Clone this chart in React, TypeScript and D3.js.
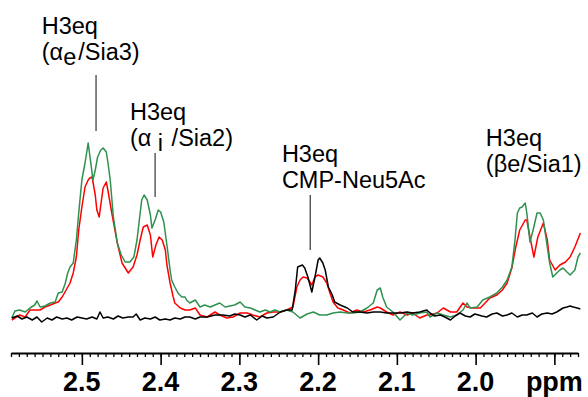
import React, { useEffect, useRef } from "react";
import * as d3 from "d3";

// chemical shift (ppm) vs. intensity (arbitrary units)
const greenTrace: [number, number][] = [
  [2.589, 2], [2.585, 9], [2.579, 10], [2.572, 8], [2.566, 12], [2.56, 15], [2.557, 19], [2.553, 13],
  [2.547, 14], [2.54, 17], [2.534, 18], [2.53, 27], [2.525, 28], [2.521, 37], [2.518, 47], [2.515, 53],
  [2.511, 57], [2.507, 80], [2.504, 107], [2.5, 140], [2.496, 157], [2.492, 177], [2.488, 153], [2.486, 140],
  [2.483, 150], [2.48, 163], [2.476, 170], [2.473, 172], [2.469, 168], [2.467, 158], [2.464, 140], [2.46, 103],
  [2.455, 77], [2.45, 65], [2.445, 58], [2.439, 58], [2.434, 63], [2.43, 80], [2.426, 107], [2.424, 120],
  [2.421, 125], [2.417, 120], [2.413, 105], [2.411, 92], [2.407, 100], [2.403, 110], [2.4, 108], [2.396, 98],
  [2.392, 75], [2.388, 50], [2.386, 40], [2.382, 33], [2.378, 27], [2.373, 23], [2.369, 23], [2.367, 20],
  [2.363, 17], [2.356, 20], [2.35, 13], [2.344, 15], [2.337, 13], [2.331, 15], [2.325, 17], [2.318, 13],
  [2.312, 14], [2.306, 15], [2.299, 18], [2.293, 13], [2.286, 12], [2.28, 10], [2.274, 8], [2.267, 10],
  [2.261, 8], [2.255, 10], [2.248, 8], [2.24, 10], [2.232, 8], [2.223, 2], [2.214, 6], [2.206, 8],
  [2.198, 5], [2.189, 5], [2.181, 7], [2.172, 8], [2.163, 7], [2.156, 7], [2.147, 8], [2.138, 12],
  [2.13, 17], [2.125, 30], [2.121, 32], [2.118, 23], [2.113, 13], [2.105, 8], [2.096, 0], [2.087, 7],
  [2.08, 5], [2.071, 7], [2.062, 8], [2.058, 3], [2.049, 7], [2.041, 5], [2.032, 3], [2.024, 5],
  [2.016, 10], [2.011, 17], [2.007, 12], [1.998, 13], [1.991, 20], [1.982, 23], [1.973, 27], [1.966, 33],
  [1.96, 40], [1.954, 53], [1.95, 80], [1.947, 107], [1.944, 112], [1.941, 113], [1.937, 117], [1.935, 107],
  [1.931, 78], [1.927, 90], [1.922, 107], [1.918, 107], [1.914, 100], [1.909, 73], [1.906, 57], [1.902, 43],
  [1.897, 47], [1.893, 50], [1.889, 52], [1.884, 48], [1.88, 45], [1.874, 50], [1.87, 63], [1.867, 67],
];

const redTrace: [number, number][] = [
  [2.589, 0], [2.585, 2], [2.579, 5], [2.572, 3], [2.566, 10], [2.56, 10], [2.553, 10], [2.547, 13],
  [2.54, 15], [2.534, 17], [2.53, 18], [2.525, 23], [2.52, 30], [2.515, 37], [2.511, 47], [2.507, 63],
  [2.504, 90], [2.5, 113], [2.496, 133], [2.492, 140], [2.49, 142], [2.487, 143], [2.483, 125], [2.481, 110],
  [2.478, 103], [2.476, 115], [2.473, 132], [2.469, 138], [2.467, 130], [2.462, 107], [2.455, 77], [2.449, 57],
  [2.441, 47], [2.435, 53], [2.43, 65], [2.426, 80], [2.422, 93], [2.417, 95], [2.413, 85], [2.41, 63],
  [2.406, 75], [2.402, 83], [2.398, 80], [2.394, 70], [2.392, 55], [2.388, 37], [2.384, 23], [2.382, 17],
  [2.375, 12], [2.369, 10], [2.363, 10], [2.356, 12], [2.35, 5], [2.341, 3], [2.331, 8], [2.325, 5],
  [2.316, 2], [2.308, 3], [2.299, 7], [2.29, 7], [2.283, 5], [2.274, 3], [2.265, 7], [2.257, 8],
  [2.248, 8], [2.24, 10], [2.232, 13], [2.227, 33], [2.223, 40], [2.219, 43], [2.214, 42], [2.208, 35],
  [2.204, 43], [2.2, 45], [2.194, 43], [2.189, 37], [2.185, 27], [2.181, 18], [2.175, 12], [2.168, 10],
  [2.16, 7], [2.151, 10], [2.143, 8], [2.134, 10], [2.125, 13], [2.121, 12], [2.113, 8], [2.105, 5],
  [2.096, 8], [2.087, 5], [2.08, 7], [2.071, 2], [2.062, 5], [2.058, 5], [2.049, 7], [2.041, 12],
  [2.032, 8], [2.024, 8], [2.016, 17], [2.011, 13], [2.003, 12], [1.994, 12], [1.988, 17], [1.982, 22],
  [1.973, 25], [1.966, 30], [1.96, 37], [1.954, 52], [1.949, 73], [1.944, 90], [1.937, 100], [1.935, 100],
  [1.931, 83], [1.926, 63], [1.921, 83], [1.914, 97], [1.909, 80], [1.906, 60], [1.899, 50], [1.893, 55],
  [1.886, 58], [1.88, 63], [1.874, 73], [1.867, 87],
];

const blackTrace: [number, number][] = [
  [2.589, 2], [2.582, 4], [2.576, 1], [2.57, 3], [2.563, 0], [2.557, 3], [2.551, -2], [2.544, 2],
  [2.538, 0], [2.532, 3], [2.525, 1], [2.519, 2], [2.513, 0], [2.506, 3], [2.5, 2], [2.494, 1],
  [2.487, 3], [2.481, 1], [2.477, 8], [2.473, 2], [2.467, 3], [2.46, 1], [2.454, 4], [2.448, 2],
  [2.441, 3], [2.435, 3], [2.431, 6], [2.426, 0], [2.42, 2], [2.413, 1], [2.407, 3], [2.401, 0],
  [2.394, 1], [2.388, 0], [2.382, 2], [2.375, 1], [2.369, 3], [2.363, 3], [2.356, 1], [2.35, 3],
  [2.341, 3], [2.331, 5], [2.321, 5], [2.312, 4], [2.306, 6], [2.299, 5], [2.293, 3], [2.286, 5],
  [2.278, 0], [2.271, 4], [2.265, 2], [2.257, 3], [2.248, 8], [2.24, 10], [2.233, 10], [2.229, 30],
  [2.226, 53], [2.22, 55], [2.217, 52], [2.213, 43], [2.208, 28], [2.204, 43], [2.2, 60], [2.198, 62],
  [2.194, 57], [2.191, 50], [2.187, 33], [2.182, 25], [2.179, 18], [2.172, 15], [2.163, 12], [2.156, 8],
  [2.147, 8], [2.138, 7], [2.13, 8], [2.121, 8], [2.113, 7], [2.105, 7], [2.096, 7], [2.087, 8],
  [2.08, 7], [2.071, 8], [2.062, 10], [2.058, 7], [2.052, 4], [2.045, 5], [2.039, 3], [2.032, 0],
  [2.026, 4], [2.02, 7], [2.013, 4], [2.007, 3], [2.001, 6], [1.992, 4], [1.986, 3], [1.979, 6],
  [1.973, 7], [1.966, 4], [1.96, 5], [1.954, 7], [1.947, 3], [1.941, 5], [1.935, 5], [1.928, 7],
  [1.922, 3], [1.916, 6], [1.909, 7], [1.903, 6], [1.897, 8], [1.893, 10], [1.889, 12], [1.884, 13],
  [1.88, 14], [1.876, 13], [1.871, 12], [1.867, 11],
];

const majorTicks = [2.5, 2.4, 2.3, 2.2, 2.1, 2.0, 1.9];
const tickLabels = ["2.5", "2.4", "2.3", "2.2", "2.1", "2.0", "ppm"];

// peak assignments: text, where the leader line sits (ppm) and its span in intensity
const annotations = [
  { title: "H3eq", pre: "(\u03b1", sub: "e", post: "/Sia3)", textPpm: 2.551, textInt: 286, linePpm: 2.482, lineTop: 245, lineBottom: 189 },
  { title: "H3eq", pre: "(\u03b1 ", sub: "i", post: " /Sia2)", textPpm: 2.439, textInt: 200, linePpm: 2.407, lineTop: 167, lineBottom: 123 },
  { title: "H3eq", pre: "CMP-Neu5Ac", sub: "", post: "", textPpm: 2.246, textInt: 158, linePpm: 2.21, lineTop: 125, lineBottom: 70 },
  { title: "H3eq", pre: "(\u03b2e/Sia1)", sub: "", post: "", textPpm: 1.987, textInt: 174, linePpm: null, lineTop: 0, lineBottom: 0 },
];

const width = 588;
const height = 397;
const font = "Arial, 'Liberation Sans', sans-serif";

export default function App() {
  const svgRef = useRef<SVGSVGElement>(null);

  useEffect(() => {
    const svg = d3.select(svgRef.current);
    svg.selectAll("*").remove();

    const x = d3.scaleLinear().domain([2.59, 1.87]).range([11, 578]);
    const y = d3.scaleLinear().domain([0, 200]).range([320, 120]);

    const line = d3
      .line<[number, number]>()
      .x((d) => x(d[0]))
      .y((d) => y(d[1]));

    // traces
    const traces: [[number, number][], string][] = [
      [redTrace, "#ff0000"],
      [greenTrace, "#2e9150"],
      [blackTrace, "#000000"],
    ];
    traces.forEach(([data, color]) => {
      svg
        .append("path")
        .datum(data)
        .attr("d", line)
        .attr("fill", "none")
        .attr("stroke", color)
        .attr("stroke-width", 1.5)
        .attr("stroke-linejoin", "round");
    });

    // axis: minor ticks every 0.01 ppm, major every 0.1
    const axisY = 353;
    const minor = d3.range(259, 186, -1).map((v) => v / 100);
    svg
      .append("g")
      .attr("transform", `translate(0,${axisY})`)
      .call(d3.axisBottom(x).tickValues(minor).tickSize(4).tickSizeOuter(0).tickFormat(() => ""))
      .call((g) => g.select(".domain").attr("stroke-width", 2))
      .call((g) => g.selectAll(".tick line").attr("stroke-width", 1.3));

    svg
      .append("g")
      .attr("transform", `translate(0,${axisY})`)
      .call(d3.axisBottom(x).tickValues(majorTicks).tickSize(12).tickSizeOuter(0).tickFormat(() => ""))
      .call((g) => g.select(".domain").remove())
      .call((g) => g.selectAll(".tick line").attr("stroke-width", 1.6));

    svg
      .append("g")
      .selectAll("text")
      .data(majorTicks)
      .join("text")
      .attr("x", (d) => x(d))
      .attr("y", 391)
      .attr("text-anchor", "middle")
      .style("font-family", font)
      .style("font-size", "27px")
      .style("font-weight", "bold")
      .text((d, i) => tickLabels[i]);

    // assignments
    annotations.forEach((a) => {
      const tx = x(a.textPpm);
      const ty = y(a.textInt);
      svg
        .append("text")
        .attr("x", tx)
        .attr("y", ty)
        .style("font-family", font)
        .style("font-size", "23.5px")
        .text(a.title);

      const t = svg
        .append("text")
        .attr("x", tx)
        .attr("y", ty + 26)
        .style("font-family", font)
        .style("font-size", "23.5px");
      t.append("tspan").text(a.pre);
      if (a.sub) {
        t.append("tspan").attr("dy", 5).text(a.sub);
        t.append("tspan").attr("dy", -5).attr("dx", 2).text(a.post);
      }

      if (a.linePpm !== null) {
        svg
          .append("line")
          .attr("x1", x(a.linePpm))
          .attr("x2", x(a.linePpm))
          .attr("y1", y(a.lineTop))
          .attr("y2", y(a.lineBottom))
          .attr("stroke", "#444")
          .attr("stroke-width", 1.3);
      }
    });
  }, []);

  return (
    <div>
      <style>{"body{margin:0;background:#fff}"}</style>
      <svg ref={svgRef} width={width} height={height} style={{ display: "block" }} />
    </div>
  );
}
